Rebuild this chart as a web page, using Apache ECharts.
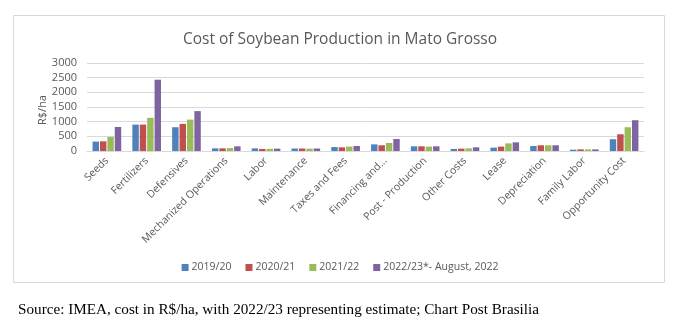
<!DOCTYPE html>
<html><head><meta charset="utf-8">
<script src="https://cdn.jsdelivr.net/npm/echarts@6/dist/echarts.min.js"></script>
<style>html,body{margin:0;padding:0;background:#fff}#c{width:680px;height:333px}</style>
</head><body><div id="c"></div>
<script>
const categories = ["Seeds","Fertilizers","Defensives","Mechanized Operations","Labor","Maintenance","Taxes and Fees","Financing and...","Post - Production","Other Costs","Lease","Depreciation","Family Labor","Opportunity Cost"];
const seriesNames = ["2019/20","2020/21","2021/22","2022/23*- August, 2022"];
const s2019 = [320, 900, 810, 90, 90, 85, 135, 225, 160, 70, 115, 170, 45, 400];
const s2020 = [330, 900, 925, 90, 70, 85, 125, 195, 160, 80, 150, 195, 55, 570];
const s2021 = [480, 1130, 1070, 100, 75, 80, 150, 275, 150, 90, 260, 195, 55, 810];
const s2022 = [820, 2430, 1360, 160, 80, 85, 170, 410, 160, 125, 295, 195, 55, 1050];
const colors = ["#4F81BD","#C0504D","#9BBB59","#8064A2"];
const data = [s2019, s2020, s2021, s2022];

const chart = echarts.init(document.getElementById('c'), null, {renderer:'canvas'});
chart.setOption({
  animation:false,
  backgroundColor:'#fff',
  title:{text:'Cost of Soybean Production in Mato Grosso', left:'center', top:27,
    textStyle:{fontFamily:'Open Sans', fontSize:15.5, fontWeight:'normal', color:'#595959'}},
  graphic:[
    {type:'rect', shape:{x:13.5,y:15.5,width:651,height:267}, style:{fill:'none', stroke:'#d9d9d9', lineWidth:1}, z:-1},
    {type:'text', left:18, top:303, style:{text:'Source: IMEA, cost in R$/ha, with 2022/23 representing estimate; Chart Post Brasilia', font:'15.2px "Liberation Serif"', fill:'#000'}}
  ],
  legend:{top:257, left:'center', itemWidth:7, itemHeight:7, itemGap:14, icon:'rect',
    textStyle:{fontFamily:'Open Sans', fontSize:10.5, color:'#595959', padding:[0,0,0,-2]}, data:seriesNames},
  grid:{left:87, right:36, top:63, bottom:182, containLabel:false},
  xAxis:{type:'category', data:categories,
    axisLine:{lineStyle:{color:'#d9d9d9'}}, axisTick:{show:false},
    axisLabel:{rotate:45, interval:0, margin:8, fontFamily:'Open Sans', fontSize:10.5, color:'#595959'}},
  yAxis:{type:'value', min:0, max:3000, interval:500, name:'R$/ha', nameLocation:'middle', nameGap:39, nameRotate:90, nameMoveOverlap:false,
    nameTextStyle:{fontFamily:'Open Sans', fontSize:11, color:'#595959', padding:[0,0,0,-6]},
    splitLine:{lineStyle:{color:'#d9d9d9'}}, axisLine:{show:false}, axisTick:{show:false},
    axisLabel:{fontFamily:'Open Sans', fontSize:11, color:'#595959', margin:10, formatter:v=>String(v)}},
  series: seriesNames.map((n,i)=>({name:n, type:'bar', data:data[i], itemStyle:{color:colors[i]}, barGap:'15%', barCategoryGap:'28%'}))
});
</script></body></html>
